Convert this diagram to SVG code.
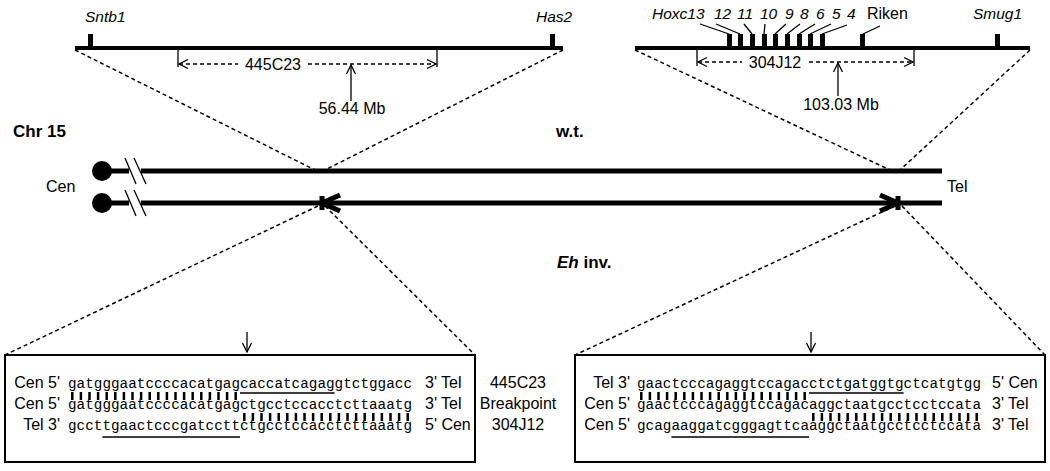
<svg xmlns="http://www.w3.org/2000/svg" width="1050" height="471" viewBox="0 0 1050 471">
<defs>
<marker id="open" viewBox="0 0 12 12" refX="11" refY="6" markerWidth="12" markerHeight="12" orient="auto-start-reverse" markerUnits="userSpaceOnUse">
<path d="M2,1.5 L11,6 L2,10.5" fill="none" stroke="#000" stroke-width="1.3"/>
</marker>
<style>
.t{font-family:"Liberation Sans",Arial,sans-serif;font-size:16px;fill:#000}
.gi{font-family:"Liberation Sans",Arial,sans-serif;font-size:15.5px;font-style:italic;fill:#000}
.b{font-family:"Liberation Sans",Arial,sans-serif;font-size:17px;font-weight:bold;fill:#000}
.seq{font-family:"Liberation Mono","Courier New",monospace;font-size:14.3px;fill:#000}
.map{stroke:#000;stroke-width:4;fill:none}
.chr{stroke:#000;stroke-width:5;fill:none}
.tick{fill:#000}
.dash{stroke:#000;stroke-width:1.5;stroke-dasharray:4 3;fill:none}
.thin{stroke:#000;stroke-width:1.3;fill:none}
.bars{stroke:#000;stroke-width:8;stroke-dasharray:2.5 6.1;fill:none}
.ul{stroke:#000;stroke-width:1.3;fill:none}
.box{stroke:#000;stroke-width:2;fill:#fff}
</style>
</defs>
<rect width="1050" height="471" fill="#fff"/>

<g id="connectors">
<path class="dash" d="M75,50 L315,170 M563,50 L325,170"/>
<path class="dash" d="M635,50 L890,170 M1030,50 L900,170"/>
<path class="dash" d="M318,206 L5,355 M325,206 L475,355"/>
<path class="dash" d="M895,206 L575,355 M902,206 L1045,355"/>
</g>

<g id="map-left">
<line class="map" x1="75" y1="48" x2="563" y2="48"/>
<rect class="tick" x="88" y="34" width="5" height="14"/>
<rect class="tick" x="550" y="34" width="5" height="14"/>
<text class="gi" x="85" y="22">Sntb1</text>
<text class="gi" x="536" y="22">Has2</text>
<path class="thin" d="M178,48 V67 M437,48 V67"/>
<path class="dash" d="M179,64 H238" marker-start="url(#open)"/>
<path class="dash" d="M308,64 H436" marker-end="url(#open)"/>
<text class="t" x="273" y="70" text-anchor="middle">445C23</text>
<path class="thin" d="M351,101 V65" marker-end="url(#open)"/>
<text class="t" x="352" y="114" text-anchor="middle">56.44 Mb</text>
</g>

<g id="map-right">
<line class="map" x1="635" y1="48" x2="1030" y2="48"/>
<rect class="tick" x="727" y="34" width="5" height="14"/>
<rect class="tick" x="738" y="34" width="5" height="14"/>
<rect class="tick" x="750" y="34" width="5" height="14"/>
<rect class="tick" x="762" y="34" width="5" height="14"/>
<rect class="tick" x="773" y="34" width="5" height="14"/>
<rect class="tick" x="785" y="34" width="5" height="14"/>
<rect class="tick" x="797" y="34" width="5" height="14"/>
<rect class="tick" x="808" y="34" width="5" height="14"/>
<rect class="tick" x="820" y="34" width="5" height="14"/>
<rect class="tick" x="860" y="34" width="5" height="14"/>
<rect class="tick" x="995" y="34" width="5" height="14"/>
<path class="thin" d="M700,24 L729,34 M716,24 L740,34 M744,24 L752,34 M765,24 L764,34 M786,24 L775,34 M800,24 L787,34 M815,24 L799,34 M831,24 L810,34 M847,25 L822,34 M880,26 L863,34"/>
<text class="gi" x="652" y="19">Hoxc13</text>
<text class="gi" x="714" y="19">12</text>
<text class="gi" x="737" y="19">11</text>
<text class="gi" x="760" y="19">10</text>
<text class="gi" x="785" y="19">9</text>
<text class="gi" x="800" y="19">8</text>
<text class="gi" x="816" y="19">6</text>
<text class="gi" x="832" y="19">5</text>
<text class="gi" x="847" y="19">4</text>
<text class="t" x="867" y="19">Riken</text>
<text class="gi" x="973" y="19">Smug1</text>
<path class="thin" d="M697,48 V66 M914,48 V66"/>
<path class="dash" d="M698,62 H742" marker-start="url(#open)"/>
<path class="dash" d="M809,62 H913" marker-end="url(#open)"/>
<text class="t" x="775" y="68" text-anchor="middle">304J12</text>
<path class="thin" d="M838,96 V63" marker-end="url(#open)"/>
<text class="t" x="841" y="110" text-anchor="middle">103.03 Mb</text>
</g>

<g id="chromosomes">
<text class="b" x="13" y="137">Chr 15</text>
<text class="b" x="556" y="137">w.t.</text>
<text class="t" x="46" y="192">Cen</text>
<text class="t" x="947" y="192">Tel</text>
<text class="b" x="557" y="268"><tspan font-style="italic">Eh</tspan> inv.</text>
<circle cx="102" cy="171" r="10" fill="#000"/>
<circle cx="102" cy="203" r="10" fill="#000"/>
<path class="chr" d="M102,171 H129 M141,171 H942 M102,203 H129 M141,203 H942"/>
<path class="thin" stroke-width="1.8" d="M125,158 L136,184 M134,158 L146,184 M125,190 L136,216 M134,190 L146,216"/>
<path class="chr" d="M340,195 L322,203 L340,211 M322,196 V210"/>
<path class="chr" d="M880,195 L898,203 L880,211 M898,196 V210"/>
</g>

<g id="arrows-down">
<path class="thin" d="M247,332 V352" marker-end="url(#open)"/>
<path class="thin" d="M811,332 V352" marker-end="url(#open)"/>
</g>

<g id="box-left">
<rect class="box" x="5" y="355" width="470" height="107"/>
<text class="t" x="60" y="388" text-anchor="end">Cen 5'</text>
<text class="t" x="60" y="409" text-anchor="end">Cen 5'</text>
<text class="t" x="60" y="430" text-anchor="end">Tel 3'</text>
<text class="seq" x="68" y="388" textLength="344" lengthAdjust="spacing">gatgggaatccccacatgagcaccatcagaggtctggacc</text>
<text class="seq" x="68" y="409" textLength="344" lengthAdjust="spacing">gatgggaatccccacatgagctgcctccacctcttaaatg</text>
<text class="seq" x="68" y="430" textLength="344" lengthAdjust="spacing">gccttgaactcccgatccttctgcctccacctcttaaatg</text>
<text class="t" x="425" y="388">3' Tel</text>
<text class="t" x="425" y="409">3' Tel</text>
<text class="t" x="425" y="430">5' Cen</text>
<line class="bars" x1="71.05" y1="396" x2="240" y2="396"/>
<line class="bars" x1="243.05" y1="417" x2="412" y2="417"/>
<path class="ul" d="M240,393 H334.6 M102.4,437 H240"/>
</g>

<g id="breakpoint-label">
<text class="t" x="518" y="388" text-anchor="middle">445C23</text>
<text class="t" x="518" y="409" text-anchor="middle">Breakpoint</text>
<text class="t" x="518" y="430" text-anchor="middle">304J12</text>
</g>

<g id="box-right">
<rect class="box" x="575" y="355" width="470" height="107"/>
<text class="t" x="630" y="388" text-anchor="end">Tel 3'</text>
<text class="t" x="630" y="409" text-anchor="end">Cen 5'</text>
<text class="t" x="630" y="430" text-anchor="end">Cen 5'</text>
<text class="seq" x="637" y="388" textLength="344" lengthAdjust="spacing">gaactcccagaggtccagacctctgatggtgctcatgtgg</text>
<text class="seq" x="637" y="409" textLength="344" lengthAdjust="spacing">gaactcccagaggtccagacaggctaatgcctcctccata</text>
<text class="seq" x="637" y="430" textLength="344" lengthAdjust="spacing">gcagaaggatcgggagttcaaggctaatgcctcctccata</text>
<text class="t" x="992" y="388">5' Cen</text>
<text class="t" x="992" y="409">3' Tel</text>
<text class="t" x="992" y="430">3' Tel</text>
<line class="bars" x1="640.05" y1="396" x2="809" y2="396"/>
<line class="bars" x1="812.05" y1="417" x2="981" y2="417"/>
<path class="ul" d="M809,393 H903.6 M671.4,437 H809"/>
</g>
</svg>
